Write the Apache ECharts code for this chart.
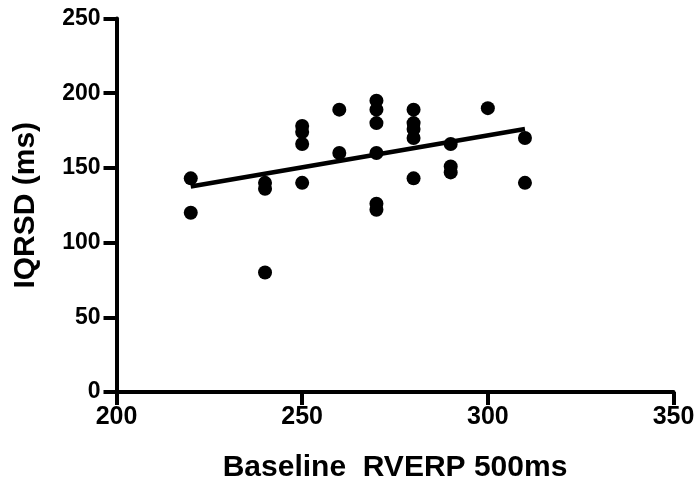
<!DOCTYPE html>
<html>
<head>
<meta charset="utf-8">
<style>
  html, body { margin: 0; padding: 0; background: #fff; }
  #chart { width: 700px; height: 488px; }
</style>
<script src="https://cdn.jsdelivr.net/npm/echarts@6/dist/echarts.min.js"></script>
</head>
<body>
<div id="chart"></div>
<script>
// Baseline RVERP (ms) for each patient, with the matching IQRSD (ms)
const rverp = [
  220, 220,
  240, 240, 240,
  250, 250, 250, 250,
  260, 260,
  270, 270, 270, 270, 270, 270,
  280, 280, 280, 280, 280,
  290, 290, 290,
  300,
  310, 310
];
const iqrsd = [
  143, 120,
  140, 136, 80,
  178, 174, 166, 140,
  189, 160,
  195, 189, 180, 160, 126, 122,
  189, 180, 176, 170, 143,
  166, 151, 147,
  190,
  170, 140
];
// End points of the linear regression line
const fitX = [220, 310];
const fitY = [137.5, 176];

const xTicks = { min: 200, max: 350, step: 50 };
const yTicks = { min: 0, max: 250, step: 50 };

const FONT = '"Liberation Sans", Arial, Helvetica, sans-serif';

const points = rverp.map((x, i) => [x, iqrsd[i]]);
const fit = fitX.map((x, i) => [x, fitY[i]]);

const chart = echarts.init(document.getElementById('chart'), null, { renderer: 'canvas' });

const axisCommon = {
  axisLine: { show: true, onZero: false, lineStyle: { color: '#000', width: 4 } },
  axisTick: { show: true, inside: false, length: 13, lineStyle: { color: '#000', width: 4 } },
  splitLine: { show: false },
  nameLocation: 'middle',
  nameTextStyle: { color: '#000', fontFamily: FONT, fontWeight: 'bold', fontSize: 30 }
};

chart.setOption({
  animation: false,
  backgroundColor: '#fff',
  grid: { left: 116.5, right: 26.5, top: 18.5, bottom: 95.5 },
  xAxis: Object.assign({}, axisCommon, {
    type: 'value',
    min: xTicks.min, max: xTicks.max, interval: xTicks.step,
    name: 'Baseline  RVERP 500ms',
    nameGap: 61,
    axisLabel: { color: '#000', fontFamily: FONT, fontWeight: 'bold', fontSize: 25, margin: 13 }
  }),
  yAxis: Object.assign({}, axisCommon, {
    type: 'value',
    min: yTicks.min, max: yTicks.max, interval: yTicks.step,
    name: 'IQRSD (ms)',
    nameGap: 76,
    axisLabel: { color: '#000', fontFamily: FONT, fontWeight: 'bold', fontSize: 23, margin: 16 }
  }),
  series: [
    {
      type: 'scatter',
      data: points,
      symbol: 'circle',
      symbolSize: 14,
      itemStyle: { color: '#000', opacity: 1 },
      z: 3
    },
    {
      type: 'line',
      data: fit,
      showSymbol: false,
      symbol: 'none',
      lineStyle: { color: '#000', width: 4.5 },
      z: 2
    }
  ]
});
</script>
</body>
</html>
